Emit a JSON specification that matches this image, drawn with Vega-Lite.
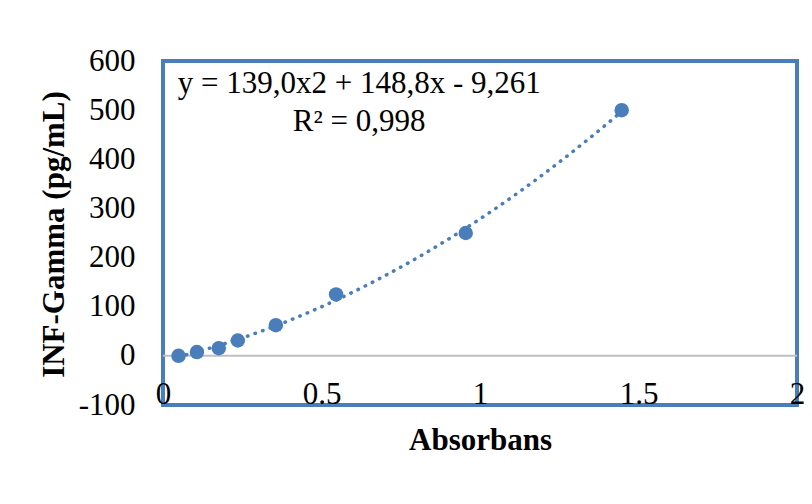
{
  "$schema": "https://vega.github.io/schema/vega-lite/v6.json",
  "width": 634,
  "height": 344,
  "autosize": {"type": "none"},
  "padding": {"left": 163, "top": 61, "right": 15, "bottom": 99},
  "background": "white",
  "config": {
    "view": {"stroke": "#4a7ebb", "strokeWidth": 4},
    "font": "Liberation Serif",
    "axis": {"grid": false, "domain": false, "ticks": false, "tickSize": 0, "labelFont": "Liberation Serif", "labelFontSize": 31, "labelColor": "black", "titleFont": "Liberation Serif", "titleFontSize": 31, "titleFontWeight": "bold", "titleColor": "black"}
  },
  "data": {
    "values": [
      {"x": 0.049, "y": 0},
      {"x": 0.107, "y": 7.8},
      {"x": 0.176, "y": 15.6},
      {"x": 0.236, "y": 31.25},
      {"x": 0.356, "y": 62.5},
      {"x": 0.546, "y": 125},
      {"x": 0.955, "y": 250},
      {"x": 1.447, "y": 500}
    ]
  },
  "layer": [
    {
      "data": {"values": [{}]},
      "mark": {"type": "rule", "color": "#bfbfbf", "strokeWidth": 2},
      "encoding": {"y": {"datum": 0, "type": "quantitative", "scale": {"domain": [-100, 600], "nice": false}}}
    },
    {
      "transform": [{"regression": "y", "on": "x", "method": "poly", "order": 2}],
      "mark": {"type": "line", "color": "#4a7ebb", "strokeWidth": 3.5, "strokeDash": [0.5, 7.5], "strokeCap": "round"},
      "encoding": {
        "x": {"field": "x", "type": "quantitative"},
        "y": {"field": "y", "type": "quantitative"}
      }
    },
    {
      "mark": {"type": "point", "filled": true, "opacity": 1, "color": "#4a7ebb", "size": 210},
      "encoding": {
        "x": {
          "field": "x", "type": "quantitative",
          "scale": {"domain": [0, 2], "nice": false, "zero": false},
          "axis": {"title": "Absorbans", "values": [0, 0.5, 1, 1.5, 2], "labelFlush": false, "labelOverlap": false, "labelBaseline": "alphabetic", "labelPadding": -2, "labelExpr": "'' + datum.value", "titleY": 44, "titleBaseline": "alphabetic"}
        },
        "y": {
          "field": "y", "type": "quantitative",
          "scale": {"domain": [-100, 600], "nice": false, "zero": false},
          "axis": {"title": "INF-Gamma  (pg/mL)", "values": [-100, 0, 100, 200, 300, 400, 500, 600], "labelPadding": 28, "labelOverlap": false, "labelExpr": "'' + datum.value", "titleX": -100, "titleY": 173, "titleAngle": -90, "titleAlign": "center", "titleBaseline": "alphabetic"}
        }
      }
    },
    {
      "data": {"values": [{}]},
      "mark": {"type": "text", "text": ["y = 139,0x2 + 148,8x - 9,261", "R² = 0,998"], "font": "Liberation Serif", "fontSize": 31, "lineHeight": 38, "align": "center", "baseline": "alphabetic", "color": "black"},
      "encoding": {
        "x": {"datum": 0.619, "type": "quantitative"},
        "y": {"datum": 534, "type": "quantitative"}
      }
    }
  ]
}
